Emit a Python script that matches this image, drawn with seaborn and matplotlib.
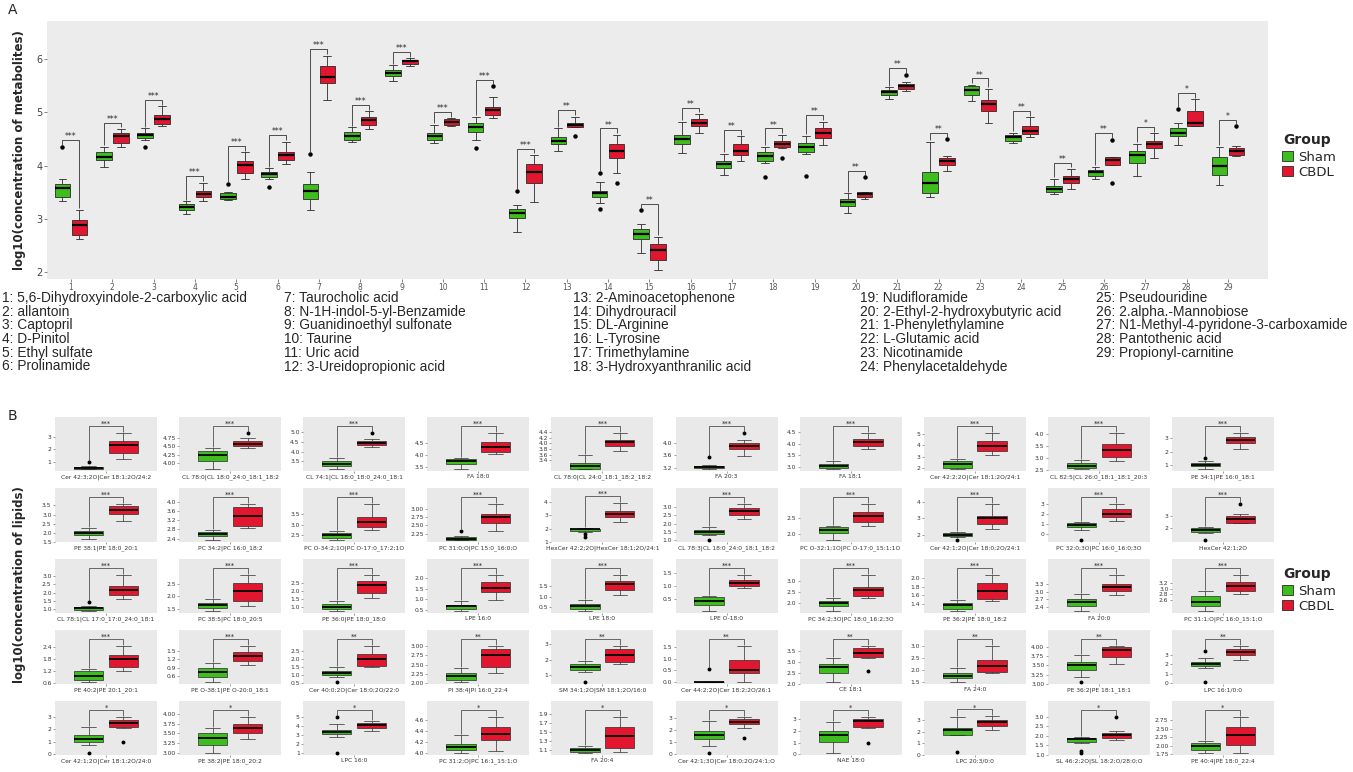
import matplotlib
matplotlib.use("Agg")
import matplotlib.pyplot as plt
from matplotlib.patches import Patch
import pandas as pd
import seaborn as sns

sns.set_theme(style="white")
plt.rcParams["font.family"] = ["DejaVu Sans"]

# ---------------------------------------------------------------- panel A data
metabolite_names = [
    "5,6-Dihydroxyindole-2-carboxylic acid", "allantoin", "Captopril", "D-Pinitol",
    "Ethyl sulfate", "Prolinamide", "Taurocholic acid", "N-1H-indol-5-yl-Benzamide",
    "Guanidinoethyl sulfonate", "Taurine", "Uric acid", "3-Ureidopropionic acid",
    "2-Aminoacetophenone", "Dihydrouracil", "DL-Arginine", "L-Tyrosine",
    "Trimethylamine", "3-Hydroxyanthranilic acid", "Nudifloramide",
    "2-Ethyl-2-hydroxybutyric acid", "1-Phenylethylamine", "L-Glutamic acid",
    "Nicotinamide", "Phenylacetaldehyde", "Pseudouridine", "2.alpha.-Mannobiose",
    "N1-Methyl-4-pyridone-3-carboxamide", "Pantothenic acid", "Propionyl-carnitine",
]

# (lower whisker, Q1, median, Q3, upper whisker)
sham_stats = [
    (3.34, 3.42, 3.58, 3.65, 3.75), (3.98, 4.10, 4.17, 4.25, 4.36), (4.49, 4.52, 4.57, 4.62, 4.70),
    (3.09, 3.16, 3.22, 3.28, 3.33), (3.35, 3.37, 3.42, 3.48, 3.50), (3.75, 3.78, 3.85, 3.89, 3.95),
    (3.16, 3.38, 3.53, 3.65, 3.89), (4.45, 4.49, 4.55, 4.64, 4.72), (5.59, 5.69, 5.75, 5.80, 5.89),
    (4.42, 4.49, 4.56, 4.61, 4.77), (4.49, 4.64, 4.72, 4.80, 4.92), (2.76, 3.01, 3.11, 3.18, 3.26),
    (4.28, 4.41, 4.47, 4.54, 4.70), (3.30, 3.42, 3.48, 3.53, 3.69), (2.36, 2.62, 2.72, 2.81, 2.91),
    (4.23, 4.41, 4.50, 4.58, 4.82), (3.83, 3.95, 4.03, 4.09, 4.22), (4.05, 4.08, 4.19, 4.26, 4.36),
    (4.22, 4.26, 4.36, 4.42, 4.56), (3.11, 3.25, 3.31, 3.37, 3.48), (5.25, 5.33, 5.38, 5.42, 5.47),
    (3.41, 3.48, 3.67, 3.89, 4.45), (5.22, 5.33, 5.42, 5.49, 5.52), (4.43, 4.47, 4.53, 4.58, 4.62),
    (3.47, 3.51, 3.56, 3.61, 3.75), (3.75, 3.80, 3.88, 3.92, 3.98), (3.81, 4.06, 4.20, 4.27, 4.41),
    (4.38, 4.55, 4.62, 4.70, 4.81), (3.64, 3.83, 4.00, 4.16, 4.36),
]
sham_outliers = [
    [4.36], [], [4.35], [], [3.66], [3.60], [4.22], [], [], [], [4.34], [3.53], [], [3.87, 3.19],
    [3.16], [], [], [3.78], [3.81], [], [], [], [], [], [], [], [], [5.07], [],
]
cbdl_stats = [
    (2.62, 2.69, 2.88, 2.98, 3.17), (4.36, 4.42, 4.55, 4.61, 4.69), (4.74, 4.79, 4.88, 4.95, 5.12),
    (3.34, 3.41, 3.47, 3.53, 3.68), (3.75, 3.86, 4.02, 4.08, 4.25), (4.03, 4.10, 4.20, 4.25, 4.45),
    (5.24, 5.55, 5.67, 5.87, 6.07), (4.69, 4.77, 4.86, 4.92, 5.02), (5.87, 5.92, 5.96, 5.99, 6.02),
    (4.75, 4.77, 4.82, 4.87, 4.89), (4.89, 4.95, 5.05, 5.11, 5.30), (3.31, 3.67, 3.88, 4.03, 4.20),
    (4.72, 4.72, 4.77, 4.81, 4.92), (3.86, 4.14, 4.28, 4.41, 4.58), (2.04, 2.23, 2.42, 2.53, 2.66),
    (4.62, 4.75, 4.81, 4.87, 4.97), (4.08, 4.20, 4.28, 4.40, 4.55), (4.33, 4.35, 4.41, 4.47, 4.58),
    (4.39, 4.52, 4.62, 4.70, 4.83), (3.37, 3.41, 3.47, 3.50, 3.51), (5.41, 5.44, 5.49, 5.54, 5.58),
    (3.90, 4.02, 4.08, 4.14, 4.18), (4.81, 5.02, 5.16, 5.24, 5.44), (4.54, 4.60, 4.66, 4.74, 4.91),
    (3.56, 3.68, 3.75, 3.81, 3.94), (4.02, 4.02, 4.10, 4.17, 4.17), (4.14, 4.33, 4.41, 4.47, 4.61),
    (4.74, 4.75, 4.81, 5.02, 5.25), (4.18, 4.20, 4.27, 4.33, 4.37),
]
cbdl_outliers = [
    [], [], [], [], [], [], [], [], [], [], [5.50], [], [4.55], [3.68], [], [], [], [4.14], [],
    [3.78], [5.71], [4.50], [], [], [], [4.49, 3.67], [], [], [4.74],
]
signif_a = ["***"] * 12 + ["**"] * 14 + ["*"] * 3

# ---------------------------------------------------------------- panel B data
lipid_names = [
    "Cer 42:3;2O|Cer 18:1;2O/24:2", "CL 78:0|CL 18:0_24:0_18:1_18:2", "CL 74:1|CL 18:0_18:0_24:0_18:1",
    "FA 18:0", "CL 78:0|CL 24:0_18:1_18:2_18:2", "FA 20:3", "FA 18:1", "Cer 42:2;2O|Cer 18:1;2O/24:1",
    "CL 82:5|CL 26:0_18:1_18:1_20:3", "PE 34:1|PE 16:0_18:1",
    "PE 38:1|PE 18:0_20:1", "PC 34:2|PC 16:0_18:2", "PC O-34:2;1O|PC O-17:0_17:2;1O",
    "PC 31:0;O|PC 15:0_16:0;O", "HexCer 42:2;2O|HexCer 18:1;2O/24:1", "CL 78:3|CL 18:0_24:0_18:1_18:2",
    "PC O-32:1;1O|PC O-17:0_15:1;1O", "Cer 42:1;2O|Cer 18:0;2O/24:1", "PC 32:0;3O|PC 16:0_16:0;3O",
    "HexCer 42:1;2O",
    "CL 78:1|CL 17:0_17:0_24:0_18:1", "PC 38:5|PC 18:0_20:5", "PE 36:0|PE 18:0_18:0", "LPE 16:0",
    "LPE 18:0", "LPE O-18:0", "PC 34:2;3O|PC 18:0_16:2;3O", "PE 36:2|PE 18:0_18:2", "FA 20:0",
    "PC 31:1;O|PC 16:0_15:1;O",
    "PE 40:2|PE 20:1_20:1", "PE O-38:1|PE O-20:0_18:1", "Cer 40:0;2O|Cer 18:0;2O/22:0",
    "PI 38:4|PI 16:0_22:4", "SM 34:1;2O|SM 18:1;2O/16:0", "Cer 44:2;2O|Cer 18:2;2O/26:1", "CE 18:1",
    "FA 24:0", "PE 36:2|PE 18:1_18:1", "LPC 16:1/0:0",
    "Cer 42:1;2O|Cer 18:1;2O/24:0", "PE 38:2|PE 18:0_20:2", "LPC 16:0", "PC 31:2;O|PC 16:1_15:1;O",
    "FA 20:4", "Cer 42:1;3O|Cer 18:0;2O/24:1;O", "NAE 18:0", "LPC 20:3/0:0",
    "SL 46:2;2O|SL 18:2;O/28:0;O", "PE 40:4|PE 18:0_22:4",
]
lipid_sham_stats = [
    (0.40, 0.45, 0.50, 0.55, 0.62), (3.81, 4.05, 4.23, 4.35, 4.44), (3.10, 3.25, 3.38, 3.50, 3.65),
    (3.41, 3.61, 3.74, 3.84, 3.88), (3.09, 3.11, 3.20, 3.32, 3.59), (3.15, 3.18, 3.22, 3.26, 3.29),
    (2.90, 2.96, 3.04, 3.14, 3.24), (1.94, 2.08, 2.36, 2.64, 2.82), (2.54, 2.57, 2.68, 2.78, 2.92),
    (0.71, 0.95, 1.05, 1.15, 1.32),
    (1.66, 1.88, 2.00, 2.10, 2.27), (2.33, 2.50, 2.61, 2.68, 2.77), (2.24, 2.35, 2.50, 2.58, 2.67),
    (2.05, 2.05, 2.10, 2.15, 2.17), (1.75, 1.85, 1.93, 1.98, 2.05), (1.27, 1.38, 1.50, 1.63, 1.78),
    (1.82, 2.03, 2.12, 2.23, 2.25), (1.86, 1.93, 2.00, 2.07, 2.18), (0.43, 0.77, 0.90, 1.10, 1.23),
    (1.63, 1.75, 1.88, 2.00, 2.07),
    (0.90, 0.96, 1.06, 1.13, 1.19), (1.42, 1.55, 1.65, 1.76, 1.89), (0.72, 0.85, 1.00, 1.16, 1.38),
    (0.44, 0.55, 0.67, 0.75, 0.90), (0.32, 0.42, 0.55, 0.65, 0.85), (0.05, 0.29, 0.45, 0.57, 0.62),
    (1.64, 1.89, 2.00, 2.11, 2.21), (1.23, 1.29, 1.37, 1.42, 1.50), (2.24, 2.43, 2.61, 2.73, 2.89),
    (2.20, 2.37, 2.54, 2.73, 2.92),
    (0.65, 0.75, 0.95, 1.20, 1.32), (0.36, 0.57, 0.75, 0.90, 1.07), (0.85, 1.00, 1.12, 1.22, 1.50),
    (2.03, 2.10, 2.20, 2.27, 2.40), (1.15, 1.30, 1.50, 1.68, 1.90), (0.00, 0.00, 0.00, 0.00, 0.00),
    (2.08, 2.50, 2.77, 2.92, 3.17), (1.50, 1.67, 1.76, 1.86, 2.10), (3.19, 3.38, 3.50, 3.58, 3.77),
    (1.57, 1.81, 2.05, 2.25, 2.66),
    (0.75, 1.00, 1.25, 1.55, 2.20), (3.00, 3.20, 3.38, 3.52, 3.63), (2.80, 3.07, 3.38, 3.55, 4.17),
    (4.00, 4.06, 4.12, 4.17, 4.33), (1.02, 1.05, 1.10, 1.14, 1.18), (0.62, 1.20, 1.57, 1.90, 2.73),
    (0.10, 1.09, 1.62, 1.97, 2.80), (1.70, 1.70, 2.12, 2.36, 3.30), (1.64, 1.67, 1.82, 1.89, 1.95),
    (1.78, 1.88, 2.00, 2.08, 2.15),
]
lipid_sham_outliers = [
    [0.95], [], [], [], [], [3.55], [], [], [], [1.56],
    [], [], [], [2.34], [1.63, 1.38], [0.98], [], [1.65], [-0.57], [1.08],
    [1.46], [], [], [], [], [], [], [], [], [],
    [], [], [0.55], [], [0.50], [0.58], [], [], [3.04], [3.40, 0.10],
    [0.10], [], [5.00, 1.00], [], [], [0.05], [], [0.30], [1.22, 1.09], [],
]
lipid_cbdl_stats = [
    (1.20, 1.70, 2.30, 2.65, 3.30), (4.44, 4.50, 4.58, 4.65, 4.75), (4.25, 4.36, 4.46, 4.57, 4.63),
    (4.05, 4.15, 4.36, 4.57, 4.93), (3.75, 3.90, 4.04, 4.13, 4.37), (3.74, 3.80, 3.91, 3.99, 4.08),
    (3.78, 3.92, 4.06, 4.19, 4.47), (3.12, 3.49, 3.95, 4.39, 5.05), (2.89, 3.06, 3.31, 3.56, 4.03),
    (2.20, 2.63, 2.88, 3.07, 3.37),
    (2.65, 3.05, 3.25, 3.45, 3.60), (2.85, 2.96, 3.37, 3.75, 3.90), (2.75, 2.88, 3.10, 3.36, 4.00),
    (2.32, 2.56, 2.75, 2.85, 3.14), (2.50, 2.83, 3.08, 3.33, 3.90), (2.25, 2.55, 2.75, 2.95, 3.20),
    (2.25, 2.36, 2.55, 2.68, 2.92), (2.35, 2.65, 3.00, 3.18, 3.90), (1.33, 1.67, 2.00, 2.50, 2.99),
    (2.38, 2.43, 2.75, 2.93, 3.10),
    (1.62, 1.85, 2.13, 2.38, 3.04), (1.62, 1.82, 2.23, 2.54, 2.84), (1.56, 1.88, 2.37, 2.60, 2.98),
    (0.97, 1.33, 1.55, 1.80, 2.15), (1.10, 1.32, 1.62, 1.75, 2.05), (0.91, 1.00, 1.10, 1.22, 1.42),
    (2.21, 2.31, 2.57, 2.74, 3.26), (1.46, 1.52, 1.71, 1.88, 2.08), (2.85, 3.03, 3.18, 3.30, 3.64),
    (2.81, 2.92, 3.12, 3.23, 3.50),
    (1.22, 1.42, 1.80, 2.00, 2.45), (0.98, 1.16, 1.34, 1.46, 1.70), (1.50, 1.56, 2.00, 2.33, 2.81),
    (2.27, 2.44, 2.77, 2.92, 3.00), (1.72, 1.85, 2.30, 2.67, 2.90), (0.00, 0.40, 0.54, 0.93, 1.55),
    (3.20, 3.23, 3.42, 3.62, 3.73), (1.88, 1.92, 2.15, 2.42, 3.00), (3.53, 3.72, 3.91, 4.00, 4.03),
    (2.38, 2.96, 3.30, 3.56, 3.90),
    (2.10, 2.20, 2.50, 2.72, 3.00), (3.35, 3.52, 3.63, 3.73, 3.92), (3.48, 3.83, 4.10, 4.34, 4.52),
    (4.04, 4.24, 4.35, 4.48, 4.66), (1.05, 1.14, 1.40, 1.62, 1.84), (2.17, 2.44, 2.66, 2.85, 3.05),
    (2.23, 2.35, 2.82, 3.00, 3.20), (2.12, 2.52, 2.82, 3.03, 3.33), (1.76, 1.89, 2.05, 2.15, 2.27),
    (1.78, 2.03, 2.31, 2.55, 2.85),
]
lipid_cbdl_outliers = [
    [], [4.90], [4.96], [], [], [4.32, 3.58], [], [], [], [],
    [], [], [], [], [], [], [], [], [], [3.90],
    [], [], [], [], [], [], [], [], [], [],
    [], [], [], [], [], [], [2.60], [], [], [],
    [0.97], [], [], [], [], [1.29], [1.00], [], [3.00], [],
]
lipid_ticks = [
    ["1", "2", "3"], ["4.00", "4.25", "4.50", "4.75"], ["3.5", "4.0", "4.5", "5.0"],
    ["3.5", "4.0", "4.5"], ["3.4", "3.6", "3.8", "4.0", "4.2", "4.4"], ["3.2", "3.6", "4.0"],
    ["3.0", "3.5", "4.0", "4.5"], ["2", "3", "4", "5"], ["2.5", "3.0", "3.5", "4.0"], ["1", "2", "3"],
    ["1.5", "2.0", "2.5", "3.0", "3.5"], ["2.4", "2.8", "3.2", "3.6", "4.0"], ["2.5", "3.0", "3.5"],
    ["2.25", "2.50", "2.75", "3.00"], ["1", "2", "3", "4"], ["1.0", "1.5", "2.0", "2.5", "3.0"],
    ["2.0", "2.5"], ["2", "3", "4"], ["0", "1", "2", "3"], ["2", "3"],
    ["1.0", "1.5", "2.0", "2.5", "3.0"], ["1.5", "2.0", "2.5"], ["1.0", "1.5", "2.0", "2.5"],
    ["0.5", "1.0", "1.5", "2.0"], ["0.5", "1.0", "1.5"], ["0.5", "1.0", "1.5"], ["2.0", "2.5", "3.0"],
    ["1.4", "1.6", "1.8", "2.0"], ["2.4", "2.7", "3.0", "3.3"], ["2.6", "2.8", "3.0", "3.2"],
    ["0.6", "1.2", "1.8", "2.4"], ["0.6", "0.9", "1.2", "1.5"], ["0.5", "1.0", "1.5", "2.0", "2.5"],
    ["2.00", "2.25", "2.50", "2.75", "3.00"], ["1", "2", "3"], ["0.0", "0.5", "1.0", "1.5"],
    ["2.0", "2.5", "3.0", "3.5"], ["1.5", "2.0", "2.5", "3.0"], ["3.00", "3.25", "3.50", "3.75", "4.00"],
    ["0", "1", "2", "3"],
    ["0", "1", "2", "3"], ["3.00", "3.25", "3.50", "3.75", "4.00"], ["1", "2", "3", "4", "5"],
    ["4.0", "4.2", "4.4", "4.6"], ["1.1", "1.3", "1.5", "1.7", "1.9"], ["0", "1", "2", "3"],
    ["0", "1", "2", "3"], ["0", "1", "2", "3"], ["1.0", "1.5", "2.0", "2.5", "3.0"],
    ["1.75", "2.00", "2.25", "2.50", "2.75"],
]
signif_b = ["***"] * 32 + ["**"] * 8 + ["*"] * 10

groups = ["Sham", "CBDL"]
palette = {"Sham": "#3DBE1E", "CBDL": "#E2162E"}


def observations(stats, extra):
    """Sample whose quartiles and whisker ends equal the given box summary."""
    lo, q1, med, q3, hi = stats
    return [lo, q1, q1, q1, med, med, med, q3, q3, q3, hi] + list(extra)


# ---------------------------------------------------------------- figure
W, H = 1353, 772
fig = plt.figure(figsize=(W / 100, H / 100), dpi=100)
fig.patch.set_facecolor("white")


def px_axes(left, top, width, height):
    return fig.add_axes([left / W, 1 - (top + height) / H, width / W, height / H])


box_kw = dict(
    hue="Group", hue_order=groups, palette=palette, linecolor="#2a2a2a",
    flierprops=dict(marker="o", markerfacecolor="black", markeredgecolor="black"),
    legend=False, saturation=1,
)

# ---------------------------------------------------------------- panel A
idx_labels = [str(i + 1) for i in range(len(metabolite_names))]
recs = []
for i, lab in enumerate(idx_labels):
    for grp, st, out in (("Sham", sham_stats[i], sham_outliers[i]),
                         ("CBDL", cbdl_stats[i], cbdl_outliers[i])):
        for v in observations(st, out):
            recs.append((lab, grp, v))
dfA = pd.DataFrame(recs, columns=["idx", "Group", "value"])

axA = px_axes(47, 21, 1221, 258)
A_WIDTH = 0.82
sns.boxplot(data=dfA, x="idx", y="value", order=idx_labels, width=A_WIDTH, gap=0.08,
            linewidth=0.6, fliersize=2.2,
            medianprops=dict(color="black", linewidth=1.6), ax=axA, **box_kw)
axA.set_facecolor("#ececec")
axA.set_xlim(-0.58, 28.97)
axA.set_ylim(1.87, 6.72)
axA.set_yticks([2, 3, 4, 5, 6])
axA.set_xlabel("")
axA.set_ylabel("")
for s in axA.spines.values():
    s.set_visible(False)
axA.tick_params(axis="both", bottom=True, left=True, length=2, width=0.5, color="#555555",
                pad=1)
axA.tick_params(axis="x", labelsize=5.5, labelcolor="#555555")
axA.tick_params(axis="y", labelsize=7, labelcolor="#444444")

dx = A_WIDTH / 4
for i in range(len(idx_labels)):
    s_top = max(observations(sham_stats[i], sham_outliers[i]))
    c_top = max(observations(cbdl_stats[i], cbdl_outliers[i]))
    yb = max(s_top, c_top) + 0.12
    axA.plot([i - dx, i - dx, i + dx, i + dx], [s_top + 0.03, yb, yb, c_top + 0.03],
             color="#333333", lw=0.6, solid_capstyle="butt")
    axA.text(i, yb - 0.02, signif_a[i], ha="center", va="bottom", fontsize=5.5)

fig.text(20 / W, 1 - 150 / H, "log10(concentration of metabolites)", rotation=90,
         ha="center", va="center", fontsize=8.5, fontweight="bold")
fig.text(8 / W, 1 - 10 / H, "A", fontsize=10, va="center", ha="left")

# metabolite key below panel A
col_x = [2, 284, 573, 860, 1096]
for k, name in enumerate(metabolite_names):
    c, r = divmod(k, 6)
    fig.text(col_x[c] / W, 1 - (298 + 13.7 * r) / H, f"{k + 1}: {name}",
             fontsize=9.9, family=["Liberation Sans", "DejaVu Sans"], va="center", ha="left")

# ---------------------------------------------------------------- panel B
B_WIDTH = 0.82
bdx = B_WIDTH / 4
for k, lipid in enumerate(lipid_names):
    r, c = divmod(k, 10)
    s_obs = observations(lipid_sham_stats[k], lipid_sham_outliers[k])
    c_obs = observations(lipid_cbdl_stats[k], lipid_cbdl_outliers[k])
    dfk = pd.DataFrame({
        "lipid": [lipid] * (len(s_obs) + len(c_obs)),
        "Group": ["Sham"] * len(s_obs) + ["CBDL"] * len(c_obs),
        "value": s_obs + c_obs,
    })
    ax = px_axes(55 + 124.1 * c, 417 + 71 * r, 102, 54)
    sns.boxplot(data=dfk, x="lipid", y="value", width=B_WIDTH, gap=0.16,
                linewidth=0.5, fliersize=1.8,
                medianprops=dict(color="black", linewidth=1.3), ax=ax, **box_kw)
    ax.set_facecolor("#e9e9e9")
    lo_all, hi_all = min(s_obs + c_obs), max(s_obs + c_obs)
    rng = max(hi_all - lo_all, 0.1)
    ax.set_ylim(lo_all - 0.05 * rng, hi_all + 0.44 * rng)
    ax.set_xlim(-0.6, 0.6)
    ticks = lipid_ticks[k]
    ax.set_yticks([float(t) for t in ticks])
    ax.set_yticklabels(ticks)
    ax.set_xlabel("")
    ax.set_ylabel("")
    for s in ax.spines.values():
        s.set_visible(False)
    ax.tick_params(axis="both", bottom=True, left=True, length=1.5, width=0.4,
                   color="#555555", pad=1, labelsize=4.3, labelcolor="#333333")
    yb = hi_all + 0.2 * rng
    ax.plot([-bdx, -bdx, bdx, bdx],
            [max(s_obs) + 0.03 * rng, yb, yb, max(c_obs) + 0.03 * rng],
            color="#333333", lw=0.5, solid_capstyle="butt")
    ax.text(0, yb - 0.03 * rng, signif_b[k], ha="center", va="bottom", fontsize=4.8)

fig.text(20 / W, 1 - 585 / H, "log10(concentration of lipids)", rotation=90,
         ha="center", va="center", fontsize=8.5, fontweight="bold")
fig.text(8 / W, 1 - 416 / H, "B", fontsize=10, va="center", ha="left")

# ---------------------------------------------------------------- legends
handles = [Patch(facecolor=palette[g], edgecolor="#2a2a2a", linewidth=0.6, label=g)
           for g in groups]
for title_y in (140, 574):
    fig.text(1283 / W, 1 - title_y / H, "Group", fontsize=10, fontweight="bold",
             ha="left", va="center")
    fig.legend(handles=handles, loc="upper left",
               bbox_to_anchor=(1282 / W, 1 - (title_y + 11) / H),
               frameon=False, fontsize=9.5,
               handlelength=0.8, handleheight=0.8, handletextpad=0.4,
               labelspacing=0.12, borderaxespad=0, borderpad=0)

fig.savefig("out.png", dpi=100)
